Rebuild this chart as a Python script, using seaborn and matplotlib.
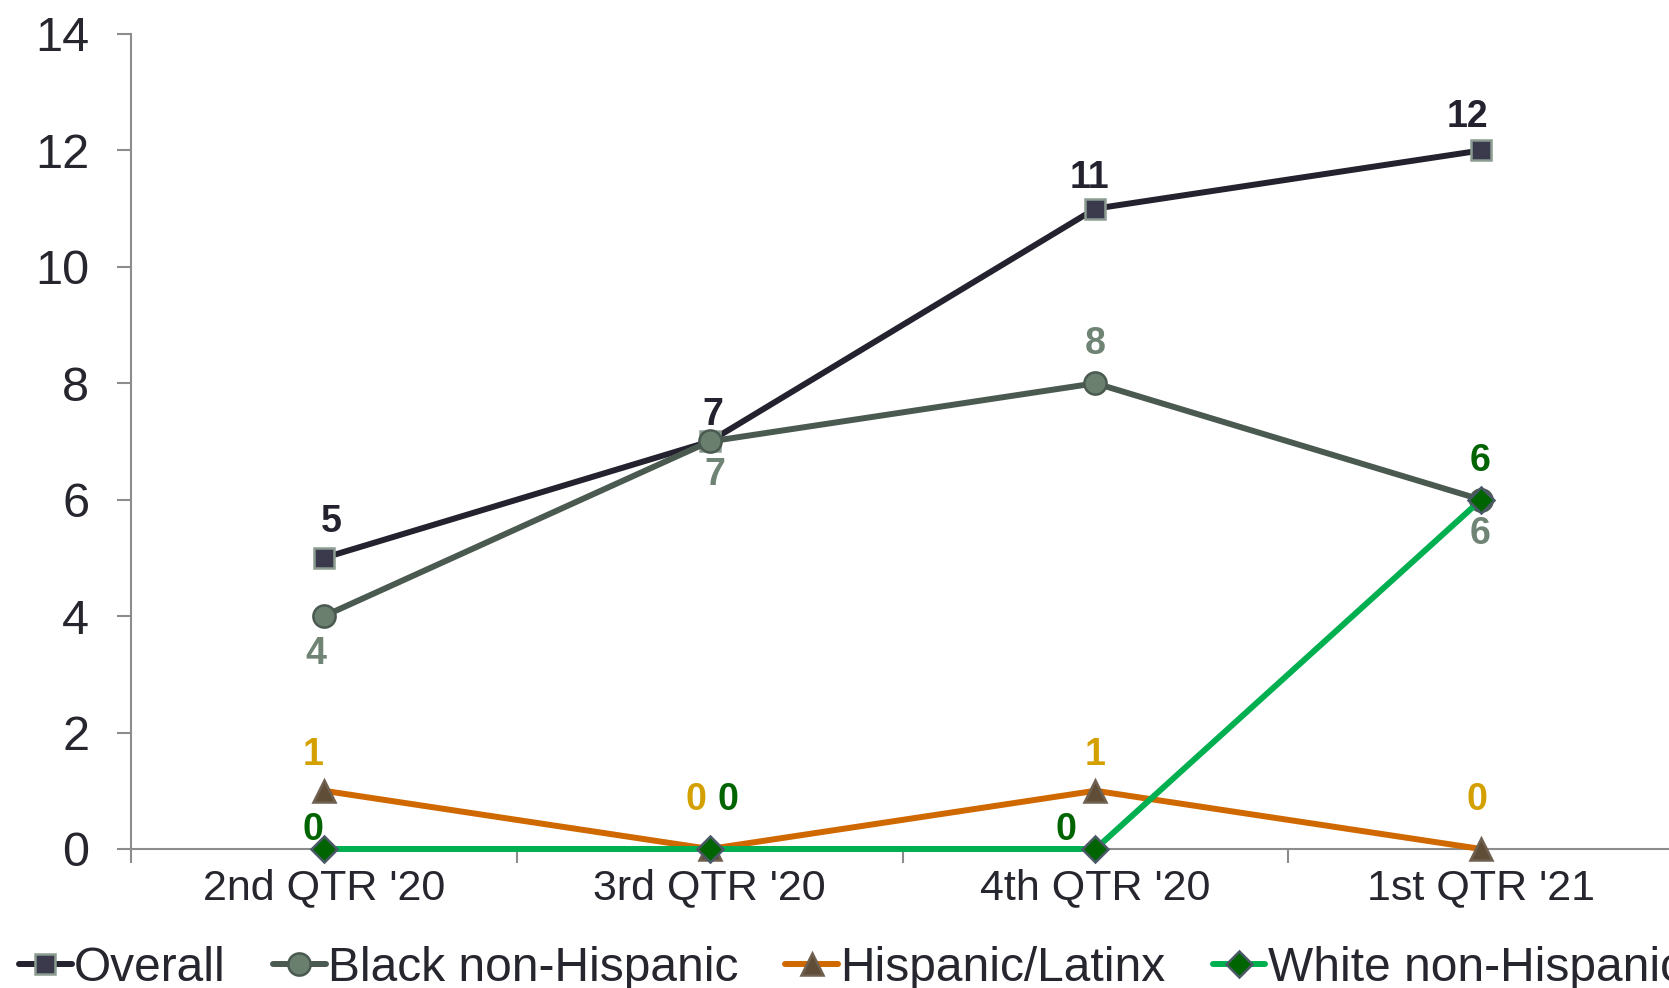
import matplotlib
matplotlib.use("Agg")
import matplotlib.pyplot as plt
import seaborn as sns
import pandas as pd

quarters = ["2nd QTR '20", "3rd QTR '20", "4th QTR '20", "1st QTR '21"]
overall = [5, 7, 11, 12]
black_nh = [4, 7, 8, 6]
hispanic = [1, 0, 1, 0]
white_nh = [0, 0, 0, 6]
series_names = ["Overall", "Black non-Hispanic", "Hispanic/Latinx", "White non-Hispanic"]

sns.set_theme(style="white")
plt.rcParams['font.family'] = ['Liberation Sans', 'DejaVu Sans']

fig = plt.figure(figsize=(16.69, 9.88), dpi=100)
ax = fig.add_axes([0.0785, 0.1407, 0.9245, 0.8249])

styles = [
    dict(line="#23222e", mfc="#3a3a4c", mec="#8c9c90", marker="s", ms=15, lab="#23222e"),
    dict(line="#4b5a51", mfc="#6b7f6f", mec="#4b5a51", marker="o", ms=16, lab="#6f8474"),
    dict(line="#d06800", mfc="#5f4d37", mec="#6f6050", marker="^", ms=16, lab="#d4a000"),
    dict(line="#00b050", mfc="#006400", mec="#4a5868", marker="D", ms=13, lab="#006400"),
]
values = [overall, black_nh, hispanic, white_nh]

for name, vals, st in zip(series_names, values, styles):
    df = pd.DataFrame({"q": quarters, "v": vals})
    sns.lineplot(data=df, x="q", y="v", ax=ax, color=st["line"], linewidth=4.3,
                 marker=st["marker"], markersize=st["ms"], markerfacecolor=st["mfc"],
                 markeredgecolor=st["mec"], markeredgewidth=1.8, label=name, sort=False,
                 clip_on=False, zorder=3)

# label offsets in points (dx, dy)
offsets = [
    [(5, 26), (2, 19), (-4, 22), (-10, 24)],
    [(-6, -27), (4, -24), (0, 28), (-1, -25)],
    [(-8, 26), (-10, 35), (0, 26), (-3, 35)],
    [(-8, 14), (13, 35), (-21, 14), (-1, 28)],
]
for vals, st, offs in zip(values, styles, offsets):
    for i, (v, (dx, dy)) in enumerate(zip(vals, offs)):
        ax.annotate(str(v), (i, v), xytext=(dx, dy), textcoords="offset points",
                    ha="center", va="center", fontsize=27, fontweight="bold",
                    color=st["lab"], zorder=5)

ax.set_xlim(-0.5, 3.5)
ax.set_ylim(0, 14)
ax.set_yticks(range(0, 15, 2))
ax.set_xticks([-0.5, 0.5, 1.5, 2.5, 3.5], minor=True)
ax.set_xlabel("")
ax.set_ylabel("")
for s in ["top", "right"]:
    ax.spines[s].set_visible(False)
for s in ["left", "bottom"]:
    ax.spines[s].set_color("#8c8c8c")
    ax.spines[s].set_linewidth(1.5)
    ax.spines[s].set_zorder(1)
ax.tick_params(axis="y", which="major", left=True, length=10, width=1.5, color="#8c8c8c",
               labelsize=35, labelcolor="#26262e", pad=20)
ax.tick_params(axis="x", which="major", bottom=False, labelsize=31, labelcolor="#26262e", pad=8)
ax.tick_params(axis="x", which="minor", bottom=True, length=10, width=1.5, color="#8c8c8c")

leg = ax.legend(loc="upper left", bbox_to_anchor=(-0.085, -0.095), ncol=4, frameon=False,
                fontsize=34.5, handlelength=1.1, handletextpad=0.05, columnspacing=0.98,
                borderaxespad=0, labelcolor="#26262e")

fig.savefig("out.png", dpi=100)
